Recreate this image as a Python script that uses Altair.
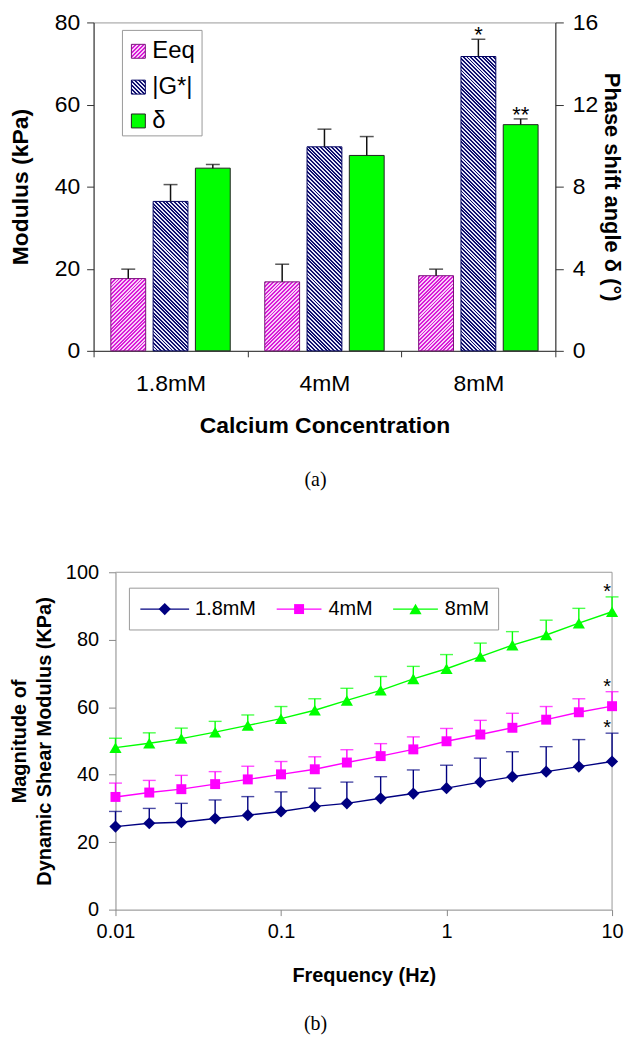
import altair as alt
import pandas as pd

# ---------------- panel (a) data ----------------
concs = ["1.8mM", "4mM", "8mM"]
series_a = ["Eeq", "|G*|", "δ"]
eeq_mean = [17.6, 16.8, 18.3]
eeq_sd = [2.3, 4.3, 1.6]
gstar_mean = [36.4, 49.7, 71.7]
gstar_sd = [4.1, 4.3, 4.2]
gstar_sig = ["", "", "*"]
delta_mean = [8.9, 9.52, 11.02]
delta_sd = [0.18, 0.92, 0.28]
delta_sig = ["", "", "**"]

# ---------------- panel (b) data ----------------
freq = [0.01, 0.016, 0.025, 0.04, 0.063, 0.1, 0.16, 0.25, 0.4, 0.63, 1, 1.6, 2.5, 4, 6.3, 10]
series_b = ["1.8mM", "4mM", "8mM"]
g_18 = [24.6, 25.6, 25.9, 27.0, 28.0, 29.1, 30.6, 31.5, 33.0, 34.4, 36.0, 37.8, 39.4, 40.9, 42.4, 43.9]
g_18_sd = [4.5, 4.4, 5.6, 5.5, 5.5, 5.8, 5.4, 6.3, 6.4, 7.0, 6.8, 7.1, 7.4, 7.4, 8.0, 8.4]
g_4 = [33.4, 34.7, 35.7, 37.2, 38.6, 40.1, 41.6, 43.6, 45.5, 47.5, 49.9, 51.9, 53.9, 56.3, 58.5, 60.3]
g_4_sd = [4.1, 3.6, 4.1, 3.7, 3.9, 3.8, 3.7, 3.8, 3.7, 3.7, 3.8, 4.2, 4.3, 3.9, 4.0, 4.3]
g_8 = [48.0, 49.3, 50.7, 52.6, 54.6, 56.6, 59.1, 62.0, 65.0, 68.4, 71.4, 75.0, 78.4, 81.4, 84.9, 88.3]
g_8_sd = [2.8, 3.1, 3.1, 3.2, 3.1, 3.6, 3.4, 3.6, 4.1, 3.7, 4.2, 4.0, 4.0, 4.4, 4.4, 4.4]
sig_b = ["*", "*", "*"]  # significance mark at 10 Hz

FONT = "Liberation Sans"

# ---------------- tables ----------------
rows = []
for i, c in enumerate(concs):
    rows.append({"conc": c, "series": "Eeq", "value": eeq_mean[i],
                 "up": eeq_mean[i] + eeq_sd[i], "sig": ""})
    rows.append({"conc": c, "series": "|G*|", "value": gstar_mean[i],
                 "up": gstar_mean[i] + gstar_sd[i], "sig": gstar_sig[i]})
df_mod = pd.DataFrame(rows)
df_delta = pd.DataFrame({"conc": concs, "series": ["δ"] * 3, "value": delta_mean,
                         "up": [m + s for m, s in zip(delta_mean, delta_sd)], "sig": delta_sig})

b_means = [g_18, g_4, g_8]
b_sds = [g_18_sd, g_4_sd, g_8_sd]
brows = []
for k, s in enumerate(series_b):
    for j, f in enumerate(freq):
        brows.append({"freq": f, "series": s, "mean": b_means[k][j],
                      "up": b_means[k][j] + b_sds[k][j],
                      "sig": sig_b[k] if j == len(freq) - 1 else ""})
df_b = pd.DataFrame(brows)


# ---------------- hatch fill helper ----------------
def hatch(w, h, period, c_line, c_bg, direction):
    n = max(1, int(round((w + h) / period)))
    stops = []
    for k in range(n):
        a, b, c = k / n, (k + 0.5) / n, (k + 1) / n
        stops += [{"offset": a, "color": c_line}, {"offset": b, "color": c_line},
                  {"offset": b, "color": c_bg}, {"offset": c, "color": c_bg}]
    s = (w + h) / (w * w + h * h)
    if direction == "/":
        return {"gradient": "linear", "x1": 0, "y1": 0, "x2": w * s, "y2": h * s, "stops": stops}
    return {"gradient": "linear", "x1": 0, "y1": 1, "x2": w * s, "y2": 1 - h * s, "stops": stops}


# ---------------- panel (a) ----------------
W1, H1 = 464, 330
PX = H1 / 80.0
OFF_PI, OFF_PO = 0.176, 0.408
step = (W1 / 3) / (3 - OFF_PI + 2 * OFF_PO)
BW = step * (1 - OFF_PI)
SHIFT = -4.5
PERIOD = 3.8
hatch_style = {
    "Eeq": dict(c_line="#D81CD8", c_bg="#F8CDF8", direction="/", stroke="#7A107A"),
    "|G*|": dict(c_line="#10106E", c_bg="#E6E6F8", direction="\\", stroke="#000060"),
}

x_scale = alt.Scale(domain=concs, paddingInner=0, paddingOuter=0)
x_axis = alt.Axis(title="Calcium Concentration", labelAngle=0, tickBand="extent",
                  tickSize=6, labelPadding=16, labelFontSize=23, titleFontSize=23,
                  titleFontWeight="bold", titlePadding=19, domainColor="#333",
                  tickColor="#333", labelColor="#000", titleColor="#000", grid=False)
X_AX = alt.X("conc:N", scale=x_scale, sort=concs, axis=x_axis)
XO = alt.XOffset("series:N", scale=alt.Scale(domain=series_a, paddingInner=OFF_PI, paddingOuter=OFF_PO))

yl_scale = alt.Scale(domain=[0, 80], nice=False)
yl_axis = alt.Axis(values=[0, 20, 40, 60, 80], title="Modulus (kPa)", orient="left",
                   tickSize=7, labelPadding=7, labelFontSize=23, titleFontSize=23,
                   titleFontWeight="bold", titlePadding=22, domainColor="#333",
                   tickColor="#333", labelColor="#000", titleColor="#000", grid=False)
YL = alt.Y("value:Q", scale=yl_scale, axis=yl_axis)
YL_UP = alt.Y("up:Q", scale=yl_scale, axis=yl_axis)

left_layers = []
for i, c in enumerate(concs):
    for s, means in (("Eeq", eeq_mean), ("|G*|", gstar_mean)):
        st = hatch_style[s]
        grad = hatch(BW, means[i] * PX, PERIOD, st["c_line"], st["c_bg"], st["direction"])
        layer = (alt.Chart(df_mod)
                 .transform_filter(alt.FieldEqualPredicate(field="conc", equal=c))
                 .transform_filter(alt.FieldEqualPredicate(field="series", equal=s))
                 .mark_bar(fill=grad, stroke=st["stroke"], strokeWidth=1, xOffset=SHIFT)
                 .encode(x=X_AX, xOffset=XO, y=YL))
        left_layers.append(layer)

err_l = alt.Chart(df_mod).mark_rule(color="#111", strokeWidth=1.5, xOffset=SHIFT).encode(
    x=X_AX, xOffset=XO, y=YL, y2="up:Q")
cap_l = alt.Chart(df_mod).mark_tick(color="#111", thickness=1.5, size=14, orient="horizontal",
                                    xOffset=SHIFT).encode(x=X_AX, xOffset=XO, y=YL_UP)
sig_l = alt.Chart(df_mod).mark_text(fontSize=22, baseline="alphabetic", dy=3, xOffset=SHIFT,
                                    color="#000").encode(x=X_AX, xOffset=XO, y=YL_UP, text="sig:N")
left_layers += [err_l, cap_l, sig_l]

# manual legend (panel a)
leg_box = alt.Chart(pd.DataFrame({"k": [0]})).mark_rect(fill="white", stroke="#999", strokeWidth=1).encode(
    x=alt.value(29), x2=alt.value(109), y=alt.value(8), y2=alt.value(114))
left_layers.append(leg_box)
leg_y = [29, 65, 99]
for k, s in enumerate(series_a):
    if s in hatch_style:
        st = hatch_style[s]
        fill = hatch(14, 14, PERIOD, st["c_line"], st["c_bg"], st["direction"])
        strk = st["stroke"]
    else:
        fill = "#00FF00"
        strk = "#222"
    sw = alt.Chart(pd.DataFrame({"k": [0]})).mark_rect(fill=fill, stroke=strk, strokeWidth=1).encode(
        x=alt.value(38), x2=alt.value(52), y=alt.value(leg_y[k] - 7), y2=alt.value(leg_y[k] + 7))
    tx = alt.Chart(pd.DataFrame({"s": [s]})).mark_text(align="left", baseline="middle", fontSize=24,
                                                       color="#000").encode(
        x=alt.value(59), y=alt.value(leg_y[k]), text="s:N")
    left_layers += [sw, tx]

left = alt.layer(*left_layers)

yr_scale = alt.Scale(domain=[0, 16], nice=False)
yr_axis = alt.Axis(values=[0, 4, 8, 12, 16], title="Phase shift angle δ (°)", orient="right",
                   tickSize=8, labelPadding=9, labelFontSize=23, titleFontSize=22,
                   titleFontWeight="bold", titlePadding=2, domainColor="#333",
                   tickColor="#333", labelColor="#000", titleColor="#000", grid=False)
YR = alt.Y("value:Q", scale=yr_scale, axis=yr_axis)
YR_UP = alt.Y("up:Q", scale=yr_scale, axis=yr_axis)

bar_d = alt.Chart(df_delta).mark_bar(fill="#00FF00", stroke="#222", strokeWidth=1, xOffset=SHIFT).encode(
    x=X_AX, xOffset=XO, y=YR)
err_d = alt.Chart(df_delta).mark_rule(color="#111", strokeWidth=1.5, xOffset=SHIFT).encode(
    x=X_AX, xOffset=XO, y=YR, y2="up:Q")
cap_d = alt.Chart(df_delta).mark_tick(color="#111", thickness=1.5, size=14, orient="horizontal",
                                      xOffset=SHIFT).encode(x=X_AX, xOffset=XO, y=YR_UP)
sig_d = alt.Chart(df_delta).mark_text(fontSize=22, baseline="alphabetic", dy=3, xOffset=SHIFT,
                                      color="#000").encode(x=X_AX, xOffset=XO, y=YR_UP, text="sig:N")
right = alt.layer(bar_d, err_d, cap_d, sig_d)

top = alt.layer(left, right).resolve_scale(y="independent").properties(
    width=W1, height=H1,
    title=alt.TitleParams("(a)", orient="bottom", font="Liberation Serif", fontSize=20,
                          fontWeight="normal", offset=33, anchor="middle", frame="group", dx=-9,
                          color="#000"))

# ---------------- panel (b) ----------------
W2, H2 = 521, 339
XL = 22  # left inset of the log axis inside the panel
colors_b = ["#000080", "#FF00FF", "#00FF00"]
shapes_b = ["diamond", "square", "triangle-up"]
sizes_b = [150, 100, 150]

xb_scale = alt.Scale(type="log", domain=[0.01, 10], range=[XL, W2], nice=False)
yb_scale = alt.Scale(domain=[0, 100], nice=False)
xb_axis = alt.Axis(values=[0.01, 0.1, 1, 10], format="~g", title="Frequency (Hz)",
                   tickSize=6, labelPadding=6, labelFontSize=20, titleFontSize=20,
                   titleFontWeight="bold", titlePadding=24, domainColor="#888",
                   tickColor="#888", labelColor="#000", titleColor="#000", grid=False,
                   labelFlush=False)
yb_axis = alt.Axis(values=[0, 20, 40, 60, 80, 100],
                   title=["Magnitude of", "Dynamic Shear Modulus (KPa)"],
                   tickSize=7, labelPadding=10, labelFontSize=20, titleFontSize=20,
                   titleLineHeight=25, titleFontWeight="bold", titlePadding=11,
                   domainColor="#888", tickColor="#888", labelColor="#000",
                   titleColor="#000", grid=False, offset=-XL)
XB = alt.X("freq:Q", scale=xb_scale, axis=xb_axis)
YB = alt.Y("mean:Q", scale=yb_scale, axis=yb_axis)
YB_UP = alt.Y("up:Q", scale=yb_scale, axis=yb_axis)

b_layers = []
one0 = pd.DataFrame({"k": [0]})
# plot frame (top and right edges)
b_layers.append(alt.Chart(one0).mark_rule(color="#999", strokeWidth=1).encode(
    x=alt.value(XL), x2=alt.value(W2), y=alt.value(0)))
b_layers.append(alt.Chart(one0).mark_rule(color="#999", strokeWidth=1).encode(
    x=alt.value(W2), y=alt.value(0), y2=alt.value(H2)))

for k, s in enumerate(series_b):
    base = alt.Chart(df_b).transform_filter(alt.FieldEqualPredicate(field="series", equal=s))
    col = colors_b[k]
    b_layers.append(base.mark_line(color=col, strokeWidth=1.4).encode(x=XB, y=YB))
    b_layers.append(base.mark_rule(color=col, strokeWidth=1.4).encode(x=XB, y=YB, y2="up:Q"))
    b_layers.append(base.mark_tick(color=col, thickness=1.4, size=13, orient="horizontal").encode(
        x=XB, y=YB_UP))
    b_layers.append(base.mark_point(shape=shapes_b[k], size=sizes_b[k], filled=True, fill=col,
                                    color=col, opacity=1, strokeWidth=0).encode(x=XB, y=YB))
    b_layers.append(base.transform_filter("datum.sig != ''").mark_text(
        fontSize=20, baseline="alphabetic", dy=1, dx=-5, color="#000").encode(
        x=XB, y=YB_UP, text="sig:N"))

# manual legend (panel b)
b_layers.append(alt.Chart(one0).mark_rect(
    fill="white", stroke="#999", strokeWidth=1).encode(
    x=alt.value(36), x2=alt.value(407), y=alt.value(16), y2=alt.value(58)))
leg_line_x = [(47, 96), (184, 229), (301, 346)]
leg_text_x = [102, 236, 353]
for k, s in enumerate(series_b):
    one = pd.DataFrame({"s": [s]})
    x0, x1 = leg_line_x[k]
    b_layers.append(alt.Chart(one).mark_rule(color=colors_b[k], strokeWidth=1.4).encode(
        x=alt.value(x0), x2=alt.value(x1), y=alt.value(37)))
    b_layers.append(alt.Chart(one).mark_point(shape=shapes_b[k], size=sizes_b[k], filled=True,
                                              fill=colors_b[k], opacity=1, strokeWidth=0).encode(
        x=alt.value((x0 + x1) / 2), y=alt.value(37)))
    b_layers.append(alt.Chart(one).mark_text(align="left", baseline="middle", fontSize=20,
                                             color="#000").encode(
        x=alt.value(leg_text_x[k]), y=alt.value(37), text="s:N"))

bottom = alt.layer(*b_layers).properties(
    width=W2, height=H2,
    view=alt.ViewBackground(strokeOpacity=0),
    title=alt.TitleParams("(b)", orient="bottom", font="Liberation Serif", fontSize=20,
                          fontWeight="normal", offset=29, anchor="middle", frame="group", dx=-37.5,
                          color="#000"))

chart = (alt.vconcat(top, bottom, spacing=222.5, bounds="flush")
         .properties(padding={"left": 0, "top": 0, "right": 0, "bottom": 0})
         .configure(font=FONT)
         .configure_view(stroke="#999", strokeWidth=1))

chart.save("out.html", embed_options={"renderer": "svg", "actions": False})
